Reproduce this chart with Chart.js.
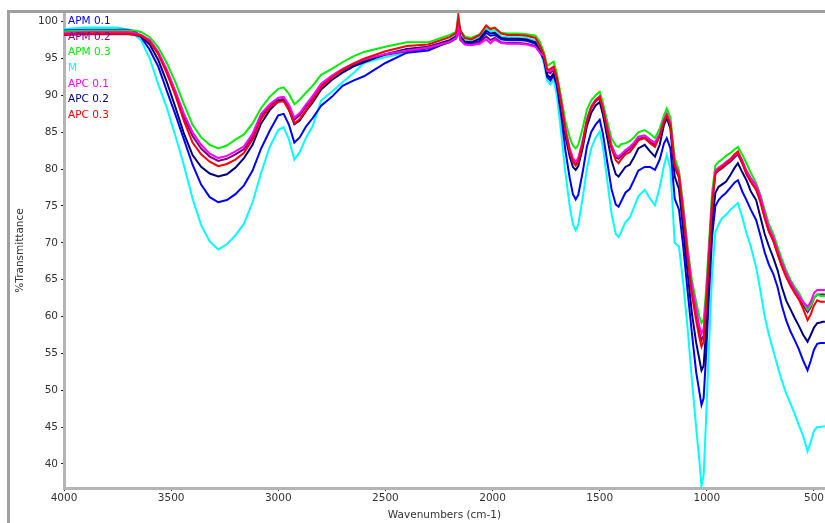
<!DOCTYPE html>
<html>
<head>
<meta charset="utf-8">
<title>FTIR spectra</title>
<script src="https://cdn.jsdelivr.net/npm/chart.js@4.4.1/dist/chart.umd.min.js"></script>
<style>
  html, body { margin: 0; padding: 0; background: #ffffff; }
  #wrap { width: 825px; height: 523px; }
</style>
</head>
<body>
<div id="wrap"><canvas id="ftir" width="825" height="523"></canvas></div>
<script>
// Wavenumber sampling points (cm-1), shared by every spectrum
const wavenumbers = [
  4000, 3900, 3800, 3750, 3700,
  3670, 3640, 3600, 3560, 3520, 3480, 3440, 3400, 3360, 3320,
  3280, 3240, 3200, 3160, 3120, 3080, 3040, 3000,
  2975, 2950, 2925, 2900, 2870, 2840, 2800, 2750, 2700, 2650, 2600,
  2500, 2400, 2300, 2200,
  2170, 2160, 2150, 2130, 2100, 2060, 2030, 2010, 1990, 1960, 1930, 1880, 1840, 1800, 1780,
  1760, 1745, 1730, 1715, 1700,
  1680, 1660, 1640, 1625, 1612, 1600,
  1580, 1560, 1540, 1520, 1500,
  1485, 1465, 1445, 1425, 1412, 1400,
  1380, 1360, 1340, 1320, 1290,
  1265, 1242, 1220, 1200, 1187,
  1170, 1150, 1130, 1110, 1090, 1070, 1050,
  1035, 1025, 1015, 1005, 990, 975, 960,
  945, 930, 910, 890, 870, 855,
  835, 815, 795, 770, 750, 730, 710, 690,
  670, 650, 630, 610, 590, 570, 550, 530,
  515, 500, 485, 470, 460, 449
];

// %Transmittance for each sample
const apm01 = [
  98.8, 98.9, 98.9, 98.9, 98.9,
  98.7, 97.9, 96.2, 93.9, 90.6, 87.4, 84.0, 80.6, 77.9, 76.2,
  75.5, 75.8, 76.6, 77.8, 79.8, 82.8, 85.2, 87.3,
  87.5, 86.0, 83.6, 84.3, 85.8, 86.9, 88.6, 89.8, 91.3, 92.0, 92.6,
  94.4, 95.8, 96.1, 97.3,
  97.8, 99.0, 97.8, 97.1, 97.0, 97.4, 98.5, 98.1, 98.2, 97.6, 97.5, 97.5, 97.4, 97.0, 96.0,
  94.8, 92.5, 92.0, 92.7, 91.3,
  87.3, 82.5, 78.8, 76.6, 75.9, 76.5,
  79.5, 83.0, 85.0, 86.0, 86.7,
  84.8, 81.0, 77.3, 75.2, 74.9, 75.6,
  76.8, 77.3, 78.5, 79.8, 80.3,
  80.3, 79.9, 81.3, 83.5, 84.2,
  82.8, 76.0, 74.5, 69.5, 63.5, 57.8, 52.5,
  49.8, 48.0, 48.9, 54.0, 63.0, 71.0, 75.0,
  75.8, 76.3, 76.8, 77.5, 78.2, 78.5,
  77.0, 75.8, 74.5, 73.1, 71.0, 68.7, 67.0, 65.8,
  64.0, 61.5, 59.5, 58.0, 56.8, 55.5, 54.0, 52.7,
  54.0, 55.5, 56.3, 56.4, 56.4, 56.4
];

const apm02 = [
  98.2, 98.3, 98.3, 98.3, 98.3,
  98.2, 98.0, 97.3, 95.7, 93.2, 90.3, 87.0, 84.5, 82.8, 81.7,
  81.1, 81.4, 82.0, 82.7, 84.4, 87.2, 88.6, 89.4,
  89.5, 88.4, 86.7, 87.3, 88.5, 89.6, 91.3, 92.5, 93.4, 94.1, 94.7,
  95.5, 96.0, 96.4, 97.2,
  97.7, 99.0, 97.5, 97.0, 96.9, 97.2, 98.0, 97.5, 97.8, 97.2, 97.1, 97.1, 97.0, 96.7, 95.9,
  95.2, 93.2, 93.0, 93.5, 92.2,
  88.9, 85.2, 82.5, 81.2, 80.7, 81.2,
  83.5, 86.5, 88.3, 89.2, 89.6,
  88.1, 85.5, 83.0, 81.6, 81.4, 81.7,
  82.3, 82.7, 83.3, 84.1, 84.3,
  83.7, 83.3, 84.5, 86.4, 87.2,
  86.0, 80.3, 78.8, 74.0, 68.5, 63.5, 60.2,
  57.8, 56.8, 57.4, 61.0, 68.5, 75.5, 79.4,
  79.8, 80.1, 80.6, 81.0, 81.6, 82.0,
  80.8, 79.3, 78.3, 77.3, 75.8, 73.6, 71.6, 70.3,
  68.6, 66.9, 65.5, 64.3, 63.3, 62.4, 61.5, 60.6,
  61.3, 62.5, 63.0, 63.0, 63.0, 63.0
];

const apm03 = [
  98.7, 98.8, 98.8, 98.8, 98.8,
  98.8, 98.6, 97.9, 96.5, 94.4, 91.8, 88.8, 86.0, 84.3, 83.3,
  82.8, 83.2, 84.0, 84.7, 86.2, 88.3, 89.8, 90.9,
  91.1, 90.2, 88.8, 89.4, 90.4, 91.3, 92.8, 93.6, 94.5, 95.3, 95.9,
  96.6, 97.2, 97.2, 98.2,
  98.6, 99.8, 98.8, 98.0, 97.8, 98.3, 99.4, 99.0, 99.1, 98.5, 98.4, 98.4, 98.3, 98.1, 97.3,
  95.8, 94.0, 94.3, 94.6, 93.0,
  89.8, 86.5, 84.3, 83.2, 82.8, 83.3,
  85.5, 88.0, 89.3, 90.0, 90.5,
  89.0, 86.5, 84.2, 83.2, 83.0, 83.4,
  83.5, 83.8, 84.3, 85.0, 85.3,
  84.8, 84.2, 85.5, 87.3, 88.2,
  87.0, 81.5, 79.8, 75.0, 69.5, 65.0, 62.0,
  60.0, 59.1, 59.6, 63.0, 70.0, 77.0, 80.5,
  81.0, 81.3, 81.8, 82.2, 82.7, 83.0,
  82.0, 80.8, 79.5, 78.1, 76.5, 74.5, 72.5, 71.2,
  69.5, 67.8, 66.3, 65.0, 64.0, 63.2, 62.0, 60.9,
  61.5, 62.5, 63.0, 62.8, 62.8, 62.8
];

const mBlank = [
  99.0, 99.2, 99.2, 99.2, 98.9,
  98.2, 97.5, 95.0, 91.5, 88.3, 84.5, 80.5, 76.0, 72.4, 70.2,
  69.1, 69.8, 71.0, 72.6, 75.5, 79.5, 83.0, 85.3,
  85.7, 84.0, 81.3, 82.3, 84.3, 85.8, 89.3, 90.5, 91.8, 93.0, 94.4,
  95.2, 95.8, 96.3, 97.4,
  98.3, 101.2, 98.6, 97.6, 97.5, 98.0, 99.2, 98.7, 98.8, 98.0, 97.9, 97.9, 97.8, 97.4, 96.3,
  94.3, 92.0, 91.5, 92.1, 90.0,
  85.0, 79.5, 75.0, 72.5, 71.7, 72.5,
  76.0, 80.0, 82.8, 84.2, 85.1,
  83.0, 78.5, 74.0, 71.2, 70.8, 71.5,
  72.8, 73.4, 74.8, 76.3, 77.2,
  76.0, 75.1, 77.5, 80.5, 81.9,
  80.0, 70.0, 69.5, 64.5, 58.5, 51.5, 45.0,
  40.5, 37.0, 38.5, 45.0, 56.0, 66.0, 71.5,
  72.5, 73.3, 73.8, 74.5, 75.0, 75.4,
  73.5, 71.3, 69.5, 66.7, 63.5, 60.0, 57.5, 55.4,
  53.3, 51.3, 49.6, 48.2, 46.8, 45.2, 43.8, 41.7,
  43.0, 44.5, 45.0, 45.0, 45.1, 45.1
];

const apc01 = [
  98.5, 98.6, 98.6, 98.6, 98.6,
  98.5, 98.2, 97.5, 95.9, 93.5, 90.6, 87.5, 85.0, 83.3, 82.1,
  81.5, 81.8, 82.4, 83.1, 84.8, 87.5, 88.8, 89.7,
  89.8, 88.7, 87.0, 87.6, 88.8, 89.9, 91.6, 92.7, 93.6, 94.3, 94.9,
  95.6, 96.1, 96.5, 97.3,
  97.8, 99.1, 97.6, 96.9, 96.8, 97.0, 97.6, 97.1, 97.6, 97.1, 97.0, 97.0, 96.9, 96.6, 95.8,
  95.3, 93.3, 93.3, 93.7, 92.3,
  89.2, 85.5, 82.8, 81.5, 81.0, 81.5,
  83.8, 86.8, 88.5, 89.4, 89.9,
  88.4, 85.8, 83.3, 81.9, 81.7, 82.0,
  82.6, 83.0, 83.6, 84.4, 84.6,
  84.0, 83.6, 84.8, 86.7, 87.5,
  86.3, 80.8, 79.3, 74.5, 69.0, 64.2, 61.0,
  58.7, 57.7, 58.3, 61.8, 69.0, 76.0, 79.8,
  80.2, 80.5, 81.0, 81.4, 82.0, 82.3,
  81.2, 79.8, 78.8, 77.8, 76.3, 74.0, 72.0, 70.8,
  69.0, 67.3, 65.9, 64.7, 63.7, 62.8, 62.0, 61.3,
  62.0, 63.2, 63.6, 63.6, 63.6, 63.6
];

const apc02 = [
  98.4, 98.5, 98.5, 98.5, 98.5,
  98.4, 98.0, 96.9, 94.8, 91.8, 88.4, 84.8, 81.9, 80.3, 79.4,
  79.0, 79.3, 80.2, 81.5, 83.3, 86.2, 88.0, 89.2,
  89.3, 88.0, 86.1, 86.6, 87.9, 89.0, 90.8, 92.1, 93.1, 93.9, 94.5,
  95.6, 96.3, 96.6, 97.5,
  98.0, 99.2, 98.0, 97.3, 97.2, 97.7, 98.8, 98.4, 98.5, 97.8, 97.7, 97.7, 97.6, 97.2, 96.2,
  95.0, 92.8, 92.4, 93.0, 91.8,
  88.3, 84.5, 81.7, 80.3, 79.9, 80.4,
  82.8, 85.8, 87.6, 88.6, 89.1,
  87.4, 84.3, 81.2, 79.3, 79.0, 79.5,
  80.3, 80.6, 81.6, 82.8, 83.3,
  82.4, 81.7, 83.3, 86.0, 86.9,
  85.5, 79.0, 77.3, 71.8, 66.0, 60.5, 56.5,
  54.2, 52.7, 53.3, 57.5, 65.5, 73.0, 76.8,
  77.6, 77.9, 78.3, 79.2, 80.2, 80.8,
  79.6, 78.5, 77.0, 75.8, 73.5, 71.2, 69.5, 68.0,
  66.3, 64.0, 62.2, 61.0, 59.8, 58.7, 57.5, 56.6,
  57.5, 58.5, 59.1, 59.2, 59.3, 59.3
];

const apc03 = [
  98.3, 98.4, 98.4, 98.4, 98.4,
  98.3, 98.1, 97.3, 95.6, 93.0, 90.0, 86.5, 83.6, 82.0, 81.0,
  80.4, 80.7, 81.3, 82.2, 84.0, 86.8, 88.4, 89.1,
  89.2, 88.1, 86.2, 86.8, 88.0, 89.3, 91.1, 92.4, 93.5, 94.3, 95.0,
  96.0, 96.7, 96.9, 97.9,
  98.5, 100.7, 98.8, 97.8, 97.6, 98.2, 99.5, 99.0, 99.2, 98.4, 98.2, 98.2, 98.1, 97.8, 96.8,
  95.5, 93.5, 93.6, 93.9, 92.4,
  89.0, 85.2, 82.4, 81.0, 80.5, 81.0,
  83.3, 86.5, 88.3, 89.3, 89.8,
  88.2, 85.3, 82.8, 81.2, 80.8, 81.3,
  82.0, 82.3, 83.0, 83.9, 84.2,
  83.5, 83.0, 84.5, 86.5, 87.3,
  86.0, 80.5, 79.0, 73.8, 68.0, 63.0, 59.5,
  57.2, 55.9, 56.6, 60.5, 68.0, 75.5, 79.5,
  80.0, 80.3, 80.8, 81.3, 82.0, 82.4,
  81.0, 79.4, 78.3, 77.2, 75.5, 73.3, 71.5, 70.3,
  68.5, 66.8, 65.4, 64.2, 63.2, 62.3, 61.0, 59.5,
  60.3, 61.5, 62.2, 62.0, 62.0, 62.0
];

const seriesNames = ['APM 0.1', 'APM 0.2', 'APM 0.3', 'M', 'APC 0.1', 'APC 0.2', 'APC 0.3'];
const seriesValues = [apm01, apm02, apm03, mBlank, apc01, apc02, apc03];
const xTickValues = [4000, 3500, 3000, 2500, 2000, 1500, 1000, 500];
const yTickValues = [40, 45, 50, 55, 60, 65, 70, 75, 80, 85, 90, 95, 100];

// Line colours and stacking (lower "order" is painted on top)
const lineColors = ['#0000ff', '#800080', '#00ee00', '#00ffff', '#ff00ff', '#000080', '#ff0000'];
const drawOrder = [5, 4, 2, 6, 1, 3, 0];

const FONT = '"DejaVu Sans", "Liberation Sans", Arial, sans-serif';

const datasets = seriesNames.map((name, i) => ({
  label: name,
  data: wavenumbers.map((w, j) => ({ x: w, y: seriesValues[i][j] })),
  borderColor: lineColors[i],
  backgroundColor: lineColors[i],
  borderWidth: 2,
  pointRadius: 0,
  tension: 0,
  fill: false,
  order: drawOrder[i]
}));

// White page, grey outer frame
const framePlugin = {
  id: 'frame',
  beforeDraw(chart) {
    const { ctx, width, height } = chart;
    ctx.save();
    ctx.fillStyle = '#ffffff';
    ctx.fillRect(0, 0, width, height);
    ctx.restore();
  },
  afterDraw(chart) {
    const { ctx, width, height } = chart;
    ctx.save();
    ctx.strokeStyle = '#a0a0a0';
    ctx.lineWidth = 3;
    ctx.beginPath();
    ctx.moveTo(8.5, height);
    ctx.lineTo(8.5, 11.5);
    ctx.lineTo(width, 11.5);
    ctx.stroke();
    ctx.restore();
  }
};

// Coloured series names stacked in the upper-left corner of the plot
const textLegend = {
  id: 'textLegend',
  afterDatasetsDraw(chart) {
    const { ctx, chartArea } = chart;
    ctx.save();
    ctx.font = '10.5px ' + FONT;
    ctx.textAlign = 'left';
    ctx.textBaseline = 'middle';
    chart.data.datasets.forEach((ds, i) => {
      ctx.fillStyle = ds.borderColor;
      ctx.fillText(ds.label, chartArea.left + 4, 21.5 + i * 15.6);
    });
    ctx.restore();
  }
};

new Chart(document.getElementById('ftir'), {
  type: 'line',
  data: { datasets },
  plugins: [framePlugin, textLegend],
  options: {
    responsive: false,
    animation: false,
    layout: { padding: { top: 13, right: 0, bottom: 0, left: 0 } },
    plugins: {
      legend: { display: false },
      tooltip: { enabled: false },
      title: { display: false }
    },
    scales: {
      x: {
        type: 'linear',
        reverse: true,
        min: 448.7,
        max: 4000,
        afterBuildTicks(scale) { scale.ticks = xTickValues.map(v => ({ value: v })); },
        afterFit(scale) { scale.height = 35; },
        border: { display: true, color: '#b4b4b4', width: 3 },
        grid: { display: true, drawOnChartArea: false, drawTicks: true, tickLength: 3, tickColor: '#222222', tickWidth: 1 },
        ticks: {
          color: '#333333',
          font: { family: FONT, size: 10.5 },
          padding: 1,
          maxRotation: 0,
          autoSkip: false,
          callback: v => String(v)
        },
        title: {
          display: true,
          text: 'Wavenumbers (cm-1)',
          color: '#333333',
          font: { family: FONT, size: 10.5 },
          padding: { top: 0, bottom: 1 }
        }
      },
      y: {
        type: 'linear',
        min: 36.74,
        max: 101.18,
        afterBuildTicks(scale) { scale.ticks = yTickValues.map(v => ({ value: v })); },
        afterFit(scale) { scale.width = 64; },
        border: { display: true, color: '#b4b4b4', width: 3 },
        grid: { display: true, drawOnChartArea: false, drawTicks: true, tickLength: 3, tickColor: '#222222', tickWidth: 1 },
        ticks: {
          color: '#333333',
          font: { family: FONT, size: 10.5 },
          padding: 3,
          autoSkip: false,
          callback: v => String(v)
        },
        title: {
          display: true,
          text: '%Transmittance',
          color: '#333333',
          font: { family: FONT, size: 10.5 },
          padding: { top: 14, bottom: 0 }
        }
      }
    }
  }
});
</script>
</body>
</html>
